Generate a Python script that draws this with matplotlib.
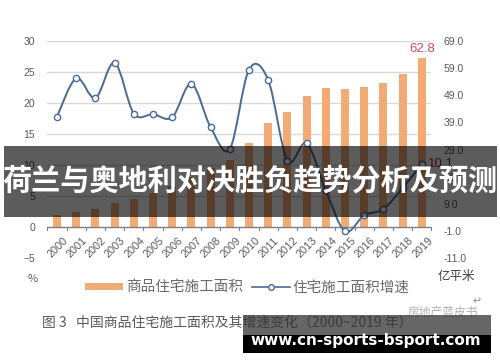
import numpy as np
import matplotlib
matplotlib.use('Agg')
import matplotlib.pyplot as plt
from matplotlib.path import Path
from matplotlib.patches import PathPatch, Rectangle
from matplotlib.lines import Line2D
from matplotlib.patches import Patch
import matplotlib.transforms as mtransforms

plt.rcParams['font.family'] = ['Liberation Sans', 'Noto Sans CJK SC', 'DejaVu Sans']

# data
years = [str(y) for y in range(2000, 2020)]
area = [4.8, 6.0, 7.2, 9.1, 10.9, 13.0, 15.4, 19.0, 22.0, 25.0,
        31.5, 38.8, 42.9, 48.6, 51.5, 51.2, 52.1, 53.6, 57.0, 62.8]
growth = [17.8, 24.0, 20.8, 26.5, 18.3, 18.2, 17.7, 23.1, 16.1, 12.6,
          25.4, 23.7, 10.7, 13.5, 5.9, -0.7, 1.9, 2.9, 6.3, 10.1]
left_ticks = [-5, 0, 5, 10, 15, 20, 25, 30]
right_ticks = [-11.0, -1.0, 9.0, 19.0, 29.0, 39.0, 49.0, 59.0, 69.0]

bar_color = '#F3AB76'
line_color = '#4A6A9A'
txt_gray = '#595959'
cjk = ['Noto Sans CJK SC', 'DejaVu Sans']

fig = plt.figure(figsize=(5, 3.62), dpi=100)
fig.patch.set_facecolor('white')

# bars axis (right scale)
axb = fig.add_axes([0.0948, 0.2873, 0.768, 0.5994])
axb.set_zorder(1)
# line axis (left scale)
axl = axb.twinx()
axl.set_zorder(2)
axl.patch.set_visible(False)

x = np.arange(len(years))
axb.bar(x, area, width=0.42, color=bar_color, zorder=3)
axb.set_ylim(-11, 69)
axb.set_xlim(-0.5, 19.5)
axb.yaxis.tick_right()
axb.set_yticks(right_ticks)
axb.set_yticklabels(['%.1f' % v for v in right_ticks])
axb.tick_params(axis='y', length=0, pad=9, labelsize=7.5, labelcolor=txt_gray)

axl.yaxis.tick_left()
axl.set_ylim(-5, 30)
axl.set_yticks(left_ticks)
axl.tick_params(axis='y', length=0, pad=9, labelsize=7.5, labelcolor=txt_gray)

for a in (axb, axl):
    for s in a.spines.values():
        s.set_visible(False)

# gridlines at left ticks, drawn behind the bars
gtrans = mtransforms.blended_transform_factory(axb.transAxes, axl.transData)
for t in left_ticks[2:]:
    axb.add_line(Line2D([0, 1], [t, t], transform=gtrans, color='#D9D9D9',
                        lw=1.0, zorder=1))
# x axis line at 0 of left axis
axb.add_line(Line2D([0, 1], [0, 0], transform=gtrans, color='#7F7F7F',
                    lw=1.0, zorder=4))
tick_tr = mtransforms.blended_transform_factory(axb.transData, axl.transData)
for b in np.arange(-0.5, 20.0, 1.0):
    axl.plot([b, b], [0, -0.45], color='#7F7F7F', lw=0.8, transform=tick_tr,
             clip_on=False, zorder=4)

# x tick labels (rotated)
axb.set_xticks(x)
axb.set_xticklabels([])
axb.tick_params(axis='x', length=0)
for i, yr in enumerate(years):
    axl.text(i + 0.3, -1.4, yr, rotation=45, ha='right', va='top',
             rotation_mode='anchor', fontsize=7.8, color=txt_gray,
             transform=tick_tr)
axl.set_xticks([])

# smoothed line (cubic bezier through the points)
pts = np.column_stack([x, growth]).astype(float)
verts = [tuple(pts[0])]
codes = [Path.MOVETO]
n = len(pts)
for i in range(n - 1):
    p0 = pts[max(i - 1, 0)]
    p1 = pts[i]
    p2 = pts[i + 1]
    p3 = pts[min(i + 2, n - 1)]
    c1 = p1 + (p2 - p0) / 6.0
    c2 = p2 - (p3 - p1) / 6.0
    verts += [tuple(c1), tuple(c2), tuple(p2)]
    codes += [Path.CURVE4] * 3
axl.add_patch(PathPatch(Path(verts, codes), facecolor='none',
                        edgecolor=line_color, lw=1.4, zorder=5))
axl.plot(x, growth, 'o', ms=4.5, mfc='white', mec=line_color, mew=1.0,
         zorder=6)

# value labels
axb.text(19, 63.8, '62.8', ha='center', va='bottom', fontsize=9.5,
         color='#D04B5A')
axl.text(19.3, 10.1, '10.1', ha='left', va='center', fontsize=9.5,
         color='#9B2335')

# unit labels
fig.text(0.066, 0.229, '%', fontsize=8, color=txt_gray, ha='center',
         va='center', family=cjk)
fig.text(0.912, 0.235, '亿平米', fontsize=9, color='#404040', ha='center',
         va='center', family=cjk)

# legend
handles = [Patch(facecolor=bar_color, edgecolor='none'),
           Line2D([0], [0], color=line_color, lw=1.2, marker='o', ms=4,
                  mfc='white', mec=line_color)]
fig.legend(handles, ['商品住宅施工面积', '住宅施工面积增速'], loc='center',
           bbox_to_anchor=(0.495, 0.206), ncol=2, frameon=False,
           prop={'family': cjk, 'size': 10.5}, labelcolor='#6A6A6A',
           handlelength=2.6, handleheight=0.35, handletextpad=0.2,
           columnspacing=0.6)

# caption and source
fig.text(0.084, 0.108, '图 3   中国商品住宅施工面积及其增速变化（2000~2019 年）',
         fontsize=10, color='#5A5A5A', ha='left', va='center', family=cjk,
         weight='medium')
fig.text(0.955, 0.168, '↵', fontsize=8, color='#999999', ha='center',
         va='center', family=['DejaVu Sans'])
fig.text(0.815, 0.138, '房地产蓝皮书', fontsize=8.5, color='#B0B0B0',
         ha='left', va='center', family=cjk)

# banner overlay
fig.patches.append(Rectangle((0.008, 1 - 217 / 362), 0.986, 71 / 362,
                             transform=fig.transFigure, facecolor='black',
                             alpha=0.64, zorder=10))
fig.text(0.5, 1 - 181 / 362, '荷兰与奥地利对决胜负趋势分析及预测',
         fontsize=21, color='white', weight='bold', ha='center', va='center',
         family=cjk, zorder=11)

# site watermark
fig.patches.append(Rectangle((243 / 500, 1 - 335 / 362), 248 / 500, 20 / 362,
                             transform=fig.transFigure, facecolor='#333333',
                             alpha=0.75, zorder=10))
fig.patches.append(Rectangle((243 / 500, 1 - 353 / 362), 248 / 500, 18 / 362,
                             transform=fig.transFigure, facecolor='black',
                             zorder=10))
fig.text(366 / 500, 1 - 340 / 362, 'www.cn-sports-bsport.com', fontsize=11,
         color='white', weight='bold', ha='center', va='center',
         family=['DejaVu Sans'], zorder=11)

fig.savefig('out.png', dpi=100)
